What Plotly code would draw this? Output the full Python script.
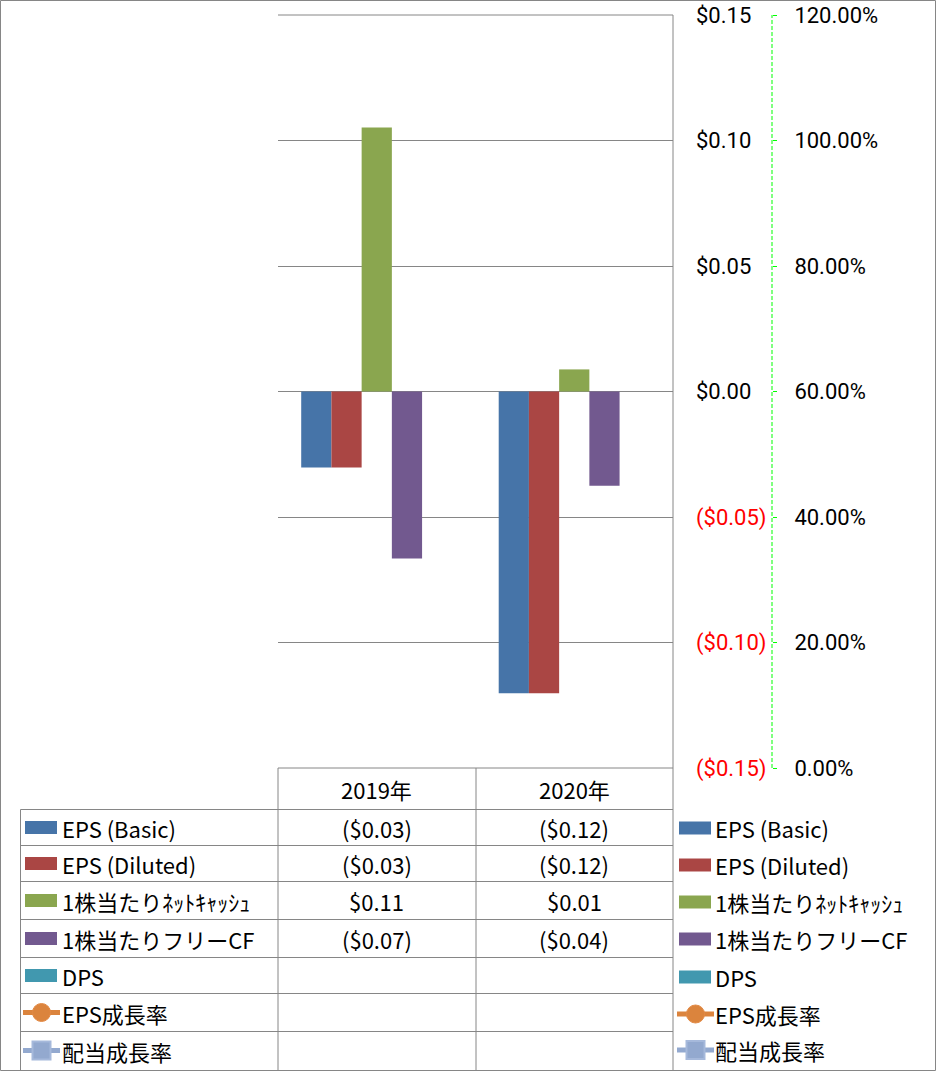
import plotly.graph_objects as go

# ---------------- data ----------------
years = ["2019年", "2020年"]
series_names = ["EPS (Basic)", "EPS (Diluted)", "1株当たりﾈｯﾄｷｬｯｼｭ", "1株当たりフリーCF", "DPS"]
eps_basic = [-0.0303, -0.1202]
eps_diluted = [-0.0303, -0.1202]
net_cash_ps = [0.1052, 0.0088]
fcf_ps = [-0.0665, -0.0375]
dps = [None, None]
eps_growth = [None, None]
div_growth = [None, None]
line_names = ["EPS成長率", "配当成長率"]

bar_colors = ["#4674A8", "#AA4644", "#8AA64F", "#72598F", "#4198AF"]
line_colors = ["#DB843D", "#93A9CF"]

y_ticks = [-0.15, -0.10, -0.05, 0.0, 0.05, 0.10, 0.15]
y2_ticks = [0, 0.2, 0.4, 0.6, 0.8, 1.0, 1.2]

W, H = 936, 1071
FONT = "Noto Sans CJK JP, Noto Sans, sans-serif"
TICK_FONT = "Roboto, Noto Sans CJK JP, sans-serif"
FS = 22
GRID = "#868686"


def px(x):
    return x / W


def py(y):
    return 1 - y / H


def money(v):
    if v is None:
        return ""
    return f"(${abs(v):.2f})" if v < 0 else f"${v:.2f}"


fig = go.Figure()
bar_values = [eps_basic, eps_diluted, net_cash_ps, fcf_ps, dps]
for name, vals, col in zip(series_names, bar_values, bar_colors):
    fig.add_trace(go.Bar(x=years, y=vals, name=name, marker_color=col,
                         marker_line_width=0, showlegend=False))
for name, vals, col in zip(line_names, [eps_growth, div_growth], line_colors):
    fig.add_trace(go.Scatter(x=years, y=vals, name=name, yaxis="y2",
                             mode="lines+markers", line=dict(color=col, width=4),
                             showlegend=False))

PL, PR, PT, PB = 278, 673, 15, 768

tick_text = []
for t in y_ticks:
    s = money(t)
    if t < 0:
        s = f'<span style="color:#FF0000">{s}</span>'
    tick_text.append(s)

shapes = []


def hline(y, x0, x1, color=GRID, width=1):
    shapes.append(dict(type="line", xref="paper", yref="paper", x0=px(x0), x1=px(x1),
                       y0=py(y), y1=py(y), line=dict(color=color, width=width)))


def vline(x, y0, y1, color=GRID, width=1):
    shapes.append(dict(type="line", xref="paper", yref="paper", x0=px(x), x1=px(x),
                       y0=py(y0), y1=py(y1), line=dict(color=color, width=width)))


# outer chart border
shapes.append(dict(type="rect", xref="paper", yref="paper", x0=px(0.5), x1=px(935.5),
                   y0=py(0.5), y1=py(1070.5), line=dict(color=GRID, width=1)))
hline(PT, PL, PR)
vline(673, PT, 1070)
# data table grid
hline(768, PL, 673)
vline(PL, 768, 1070)
vline(476, 768, 1070)
row_lines = [809.5, 845.5, 881.5, 919.5, 957.5, 993.5, 1031.5]
for y in row_lines:
    hline(y, 20.5, 673)
vline(20.5, 809.5, 1070)
# secondary axis (dashed green)
shapes.append(dict(type="line", xref="paper", yref="y2", x0=px(772), x1=px(772),
                   y0=y2_ticks[0], y1=y2_ticks[-1],
                   line=dict(color="#00FF00", width=1, dash="4px,2px")))

annotations = []
for yr in years:
    annotations.append(dict(x=yr, xref="x", y=py(789), yref="paper", text=yr,
                            showarrow=False, font=dict(family=FONT, size=FS, color="black"),
                            xanchor="center", yanchor="middle"))

row_centers = [827.5, 863.5, 900.5, 938.5, 975.5, 1012.5, 1050.5]
legend_centers = [828, 865, 902, 939, 977, 1014, 1050]
all_names = series_names + line_names
all_values = bar_values + [eps_growth, div_growth]
all_colors = bar_colors + line_colors


def key(xl, yc, idx):
    col = all_colors[idx]
    if idx < 5:
        shapes.append(dict(type="rect", xref="paper", yref="paper", x0=px(xl), x1=px(xl + 32),
                           y0=py(yc - 6.5), y1=py(yc + 6.5), fillcolor=col, line=dict(width=0)))
    else:
        shapes.append(dict(type="line", xref="paper", yref="paper", x0=px(xl - 2), x1=px(xl + 35),
                           y0=py(yc), y1=py(yc), line=dict(color=col, width=5)))
        cx = xl + 16.5
        r = 9
        if idx == 5:
            shapes.append(dict(type="circle", xref="paper", yref="paper", x0=px(cx - r), x1=px(cx + r),
                               y0=py(yc - r), y1=py(yc + r), fillcolor=col,
                               line=dict(color="#E38A45", width=1)))
        else:
            shapes.append(dict(type="rect", xref="paper", yref="paper", x0=px(cx - r), x1=px(cx + r),
                               y0=py(yc - r), y1=py(yc + r), fillcolor=col,
                               line=dict(color="#A6B9DB", width=2)))


for i, name in enumerate(all_names):
    key(25, row_centers[i], i)
    annotations.append(dict(x=px(60), xref="paper", y=py(row_centers[i]), yref="paper",
                            text=name, showarrow=False, xanchor="left", yanchor="middle",
                            font=dict(family=FONT, size=FS, color="black")))
    for j, yr in enumerate(years):
        v = all_values[i][j]
        if v is None:
            continue
        annotations.append(dict(x=yr, xref="x", y=py(row_centers[i]), yref="paper",
                                text=money(v), showarrow=False, xanchor="center", yanchor="middle",
                                font=dict(family=FONT, size=FS, color="black")))
    key(679, legend_centers[i], i)
    annotations.append(dict(x=px(713), xref="paper", y=py(legend_centers[i]), yref="paper",
                            text=name, showarrow=False, xanchor="left", yanchor="middle",
                            font=dict(family=FONT, size=FS, color="black")))

fig.update_layout(
    autosize=True,
    margin=dict(l=0, r=0, t=0, b=0, autoexpand=False),
    paper_bgcolor="white", plot_bgcolor="white",
    barmode="group", bargap=0.235, bargroupgap=0,
    font=dict(family=FONT, size=FS, color="black"),
    xaxis=dict(domain=[px(PL), px(PR)], type="category", range=[-0.5, 1.5],
               showticklabels=False, showgrid=False, zeroline=False, showline=False,
               anchor="y"),
    yaxis=dict(domain=[py(PB), py(PT)], range=[-0.15, 0.15], side="right",
               tickvals=y_ticks, ticktext=tick_text, showgrid=True, gridcolor=GRID,
               gridwidth=1, zeroline=False, showline=False, ticks="",
               ticklabelstandoff=22, ticklabeloverflow="allow", automargin=False,
               tickfont=dict(family=TICK_FONT, size=FS, color="black"),
               anchor="x"),
    yaxis2=dict(overlaying="y", side="right", anchor="free", position=px(772),
                range=[0, 1.2], tickvals=y2_ticks, tickformat=".2%",
                showgrid=False, zeroline=False, showline=False, automargin=False,
                ticks="outside", ticklen=4, tickcolor="#00FF00", tickwidth=1,
                ticklabelstandoff=13, ticklabeloverflow="allow",
                tickfont=dict(family=TICK_FONT, size=FS, color="black")),
    shapes=shapes,
    annotations=annotations,
    showlegend=False,
)

fig.write_html(
    "out.html",
    config={"displayModeBar": False},
    default_width=f"{W}px",
    default_height=f"{H}px; position:absolute; top:0; left:0",
)
